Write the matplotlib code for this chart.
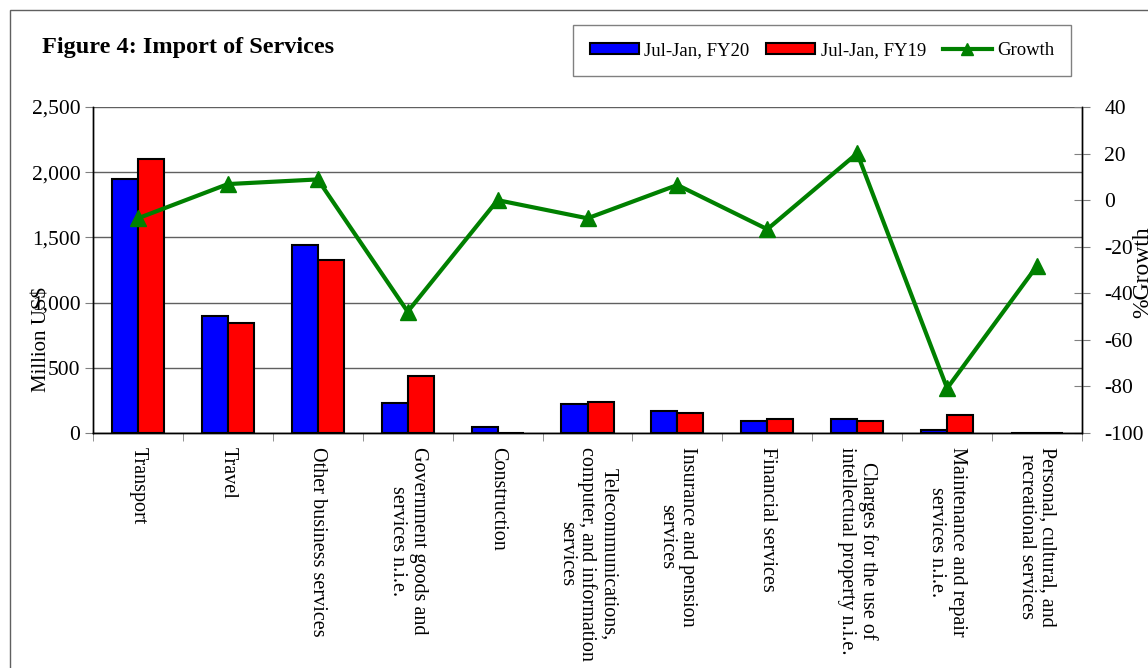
import matplotlib
matplotlib.use('Agg')
import matplotlib.pyplot as plt
from matplotlib.patches import Rectangle, Patch
from matplotlib.lines import Line2D
from matplotlib.ticker import FuncFormatter
import numpy as np

plt.rcParams['font.family'] = ['Liberation Serif', 'DejaVu Serif']
plt.rcParams['axes.unicode_minus'] = False

categories = ['Transport', 'Travel', 'Other business services',
              'Government goods and\nservices n.i.e.', 'Construction',
              'Telecommunications,\ncomputer, and information\nservices',
              'Insurance and pension\nservices', 'Financial services',
              'Charges for the use of\nintellectual property n.i.e.',
              'Maintenance and repair\nservices n.i.e.',
              'Personal, cultural, and\nrecreational services']
fy20 = [1945, 897, 1444, 228, 44, 222, 166, 94, 110, 23, 2.6]
fy19 = [2101, 841, 1324, 437, 1, 238, 156, 105, 92, 138, 3.6]
growth = [-7.8, 6.9, 8.9, -47.9, 0.0, -7.8, 6.5, -12.5, 20.1, -80.8, -28.2]

W, H = 1148, 668
fig = plt.figure(figsize=(W / 100, H / 100), dpi=100)
ax = fig.add_axes([93 / W, 1 - 433 / H, (1082 - 93) / W, (433 - 107) / H])
ax2 = ax.twinx()

x = np.arange(len(categories))
bw = 0.29
ax.bar(x - bw / 2, fy20, bw, color='#0000ff', edgecolor='black', linewidth=1.5,
       label='Jul-Jan, FY20', zorder=3)
ax.bar(x + bw / 2, fy19, bw, color='#ff0000', edgecolor='black', linewidth=1.5,
       label='Jul-Jan, FY19', zorder=3)
ax2.plot(x, growth, color='#008000', linewidth=3, marker='^', markersize=11,
         label='Growth')

ax.set_xlim(-0.5, len(categories) - 0.5)
ax.set_ylim(0, 2500)
ax.set_yticks(np.arange(0, 2501, 500))
ax.yaxis.set_major_formatter(FuncFormatter(lambda v, p: f'{int(v):,}'))
ax.yaxis.grid(True, color='#606060', linewidth=1)
ax.set_axisbelow(True)
ax2.set_ylim(-100, 40)
ax2.set_yticks(np.arange(-100, 41, 20))

ax.set_xticks(x)
ax.set_xticklabels(categories, rotation=270, ha='center', va='top',
                   multialignment='center', fontsize=14.5, linespacing=1.12)
ax.tick_params(axis='x', length=0, pad=10)
ax.set_xticks(np.arange(-0.5, len(categories)), minor=True)
ax.tick_params(axis='x', which='minor', length=6, color='#808080')
ax.tick_params(axis='y', labelsize=15.5, length=6, color='#808080', pad=3)
ax2.tick_params(axis='y', labelsize=15.5, length=12, direction='inout',
                color='#808080', pad=10)

for a in (ax, ax2):
    a.spines['top'].set_visible(False)
    for s in ('left', 'right', 'bottom'):
        a.spines[s].set_color('black')
        a.spines[s].set_linewidth(1)

fig.text(42 / W, 1 - 340 / H, 'Million US$', rotation=90, ha='center',
         va='center', fontsize=15)
fig.text(1143 / W, 1 - 272 / H, '%Growth', rotation=90, ha='center',
         va='center', fontsize=17)
fig.text(42 / W, 1 - 47 / H, 'Figure 4: Import of Services', ha='left',
         va='center', fontsize=17.5, fontweight='bold')

handles = [Patch(facecolor='#0000ff', edgecolor='black', linewidth=1.5),
           Patch(facecolor='#ff0000', edgecolor='black', linewidth=1.5),
           Line2D([], [], color='#008000', linewidth=3, marker='^', markersize=8)]
leg = fig.legend(handles, ['Jul-Jan, FY20', 'Jul-Jan, FY19', 'Growth'],
                 loc='center', bbox_to_anchor=(822 / W, 1 - 50.5 / H), ncol=3,
                 fontsize=13.5, frameon=True, fancybox=False, handlelength=2.6,
                 handleheight=0.55, handletextpad=0.3, columnspacing=0.9,
                 borderpad=0.9)
leg.get_frame().set_edgecolor('#606060')
leg.get_frame().set_linewidth(1)

fig.add_artist(Rectangle((10 / W, -0.1), 1.5, 1 - 10 / H + 0.1,
                         transform=fig.transFigure, fill=False,
                         edgecolor='#606060', linewidth=1))

fig.savefig('out.png', dpi=100)
